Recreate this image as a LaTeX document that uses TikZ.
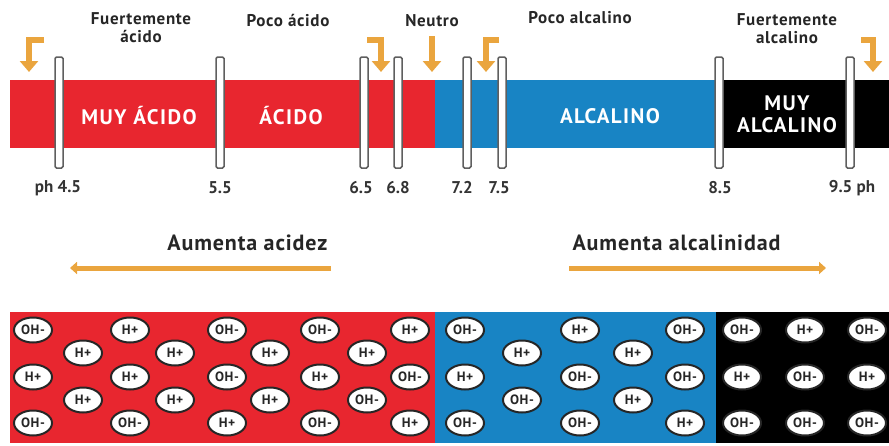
\documentclass[tikz,border=0pt]{standalone}
\usepackage{fontspec}
\setmainfont{PT Sans}
\newfontfamily\toplblfont[LetterSpace=4]{PT Sans}
\newfontfamily\barlblfont[LetterSpace=7]{PT Sans}
\newfontfamily\ionfont[LetterSpace=4]{PT Sans}
\usetikzlibrary{arrows.meta,shapes.geometric}
\definecolor{phred}{RGB}{232,38,47}
\definecolor{phblue}{RGB}{24,132,196}
\definecolor{phorange}{RGB}{234,165,62}
\definecolor{phgray}{RGB}{95,95,95}
\tikzset{
  phmarker/.style={draw=phgray, fill=white, line width=1.5pt, rounded corners=1.5pt, minimum width=8pt, minimum height=111pt, inner sep=0pt},
  toplabel/.style={font=\toplblfont\fontsize{17}{18}\selectfont\bfseries, align=center, text=black!85},
  barlabel/.style={font=\barlblfont\fontsize{21}{22}\selectfont\bfseries, text=white, align=center},
  valabel/.style={font=\fontsize{17}{18}\selectfont\bfseries, text=black!80},
  bendarrow/.style={draw=phorange, line width=6pt, -{Triangle[length=11pt,width=18pt]}},
  bigarrow/.style={draw=phorange, line width=5pt, -{Triangle[length=7pt,width=12pt]}},
  trendlabel/.style={font=\toplblfont\fontsize{22}{24}\selectfont\bfseries, text=black!85},
  ion/.style={ellipse, draw=black!85, fill=white, line width=2pt, minimum width=38pt, minimum height=25pt, inner sep=0pt, font=\ionfont\fontsize{13.5}{14}\selectfont\bfseries, text=black!85}
}
\begin{document}
\begin{tikzpicture}[x=1pt,y=-1pt]
\useasboundingbox (0,0) rectangle (889,445);
% top bar
\fill[phred] (10,80) rectangle (435,148);
\fill[phblue] (435,80) rectangle (722,148);
\fill[black] (722,80) rectangle (889,148);
% bar labels
\node[barlabel] (muyacido) at (139,116) {MUY ÁCIDO};
\node[barlabel] (acido) at (291,116) {ÁCIDO};
\node[barlabel] (alcalino) at (610,116) {ALCALINO};
\node[barlabel] (muyalcalino) at (787,114) {MUY\\ALCALINO};
% markers
\foreach \n/\x in {m45/59,m55/220,m65/364,m68/398,m72/467,m75/502,m85/719,m95/850}
  \node[phmarker] (\n) at (\x,112.5) {};
% values
\node[valabel] (v45) at (58,188) {ph 4.5};
\node[valabel] (v55) at (220,188) {5.5};
\node[valabel] (v65) at (361,188) {6.5};
\node[valabel] (v68) at (398,188) {6.8};
\node[valabel] (v72) at (462,188) {7.2};
\node[valabel] (v75) at (499,188) {7.5};
\node[valabel] (v85) at (720,188) {8.5};
\node[valabel] (v95) at (852,188) {9.5 ph};
% top labels
\node[toplabel] (fa) at (141,28) {Fuertemente\\ácido};
\node[toplabel] (pa) at (288,20) {Poco ácido};
\node[toplabel] (ne) at (432,21) {Neutro};
\node[toplabel] (pal) at (580,18) {Poco alcalino};
\node[toplabel] (fal) at (787,29) {Fuertemente\\alcalino};
% bent arrows
\coordinate (a1s) at (44,40); \coordinate (a1c) at (29,40); \coordinate (a1e) at (29,72);
\draw[bendarrow] (a1s) -- (a1c) -- (a1e);
\coordinate (a2s) at (367,40); \coordinate (a2c) at (381,40); \coordinate (a2e) at (381,72);
\draw[bendarrow] (a2s) -- (a2c) -- (a2e);
\coordinate (a3s) at (432,36); \coordinate (a3e) at (432,72);
\draw[bendarrow] (a3s) -- (a3e);
\coordinate (a4s) at (499,40); \coordinate (a4c) at (486,40); \coordinate (a4e) at (486,72);
\draw[bendarrow] (a4s) -- (a4c) -- (a4e);
\coordinate (a5s) at (861,40); \coordinate (a5c) at (873,40); \coordinate (a5e) at (873,72);
\draw[bendarrow] (a5s) -- (a5c) -- (a5e);
% trends
\node[trendlabel, anchor=east] (acidez) at (331,243) {Aumenta acidez};
\node[trendlabel, anchor=west] (alcal) at (569,243) {Aumenta alcalinidad};
\coordinate (t1s) at (331,268); \coordinate (t1e) at (70,268);
\draw[bigarrow] (t1s) -- (t1e);
\coordinate (t2s) at (569,268); \coordinate (t2e) at (826,268);
\draw[bigarrow] (t2s) -- (t2e);
% bottom panel
\fill[phred] (10,312) rectangle (435,443);
\fill[phblue] (435,312) rectangle (716,443);
\fill[black] (716,312) rectangle (889,443);
\foreach \x/\y/\t [count=\i] in {
  33/330/OH-, 130/330/H+, 227/330/OH-, 320/330/OH-, 410/330/H+,
  83/353/H+, 175/353/H+, 270/353/H+, 367/353/H+,
  33/377/H+, 130/377/H+, 227/377/OH-, 320/377/H+, 410/377/OH-,
  83/400/H+, 175/400/H+, 270/400/H+, 367/400/OH-,
  33/423/OH-, 130/423/OH-, 227/423/H+, 320/423/OH-, 410/423/H+,
  465/330/OH-, 580/330/H+, 685/330/OH-,
  522/353/H+, 633/353/H+,
  465/377/H+, 580/377/OH-, 685/377/OH-,
  522/400/OH-, 633/400/H+,
  465/423/OH-, 580/423/OH-, 685/423/H+,
  742/330/OH-, 805/330/H+, 867/330/OH-,
  742/377/H+, 805/377/OH-, 867/377/H+,
  742/423/OH-, 805/423/OH-, 867/423/OH-}
  \node[ion] (ion\i) at (\x,\y) {\t};
\end{tikzpicture}
\end{document}
